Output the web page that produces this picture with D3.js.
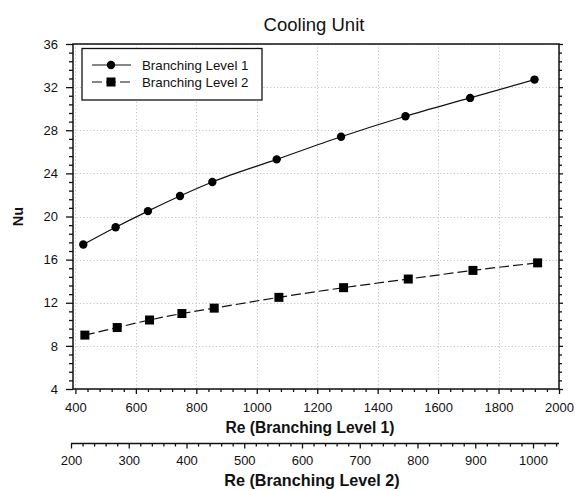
<!DOCTYPE html>
<html>
<head>
<meta charset="utf-8">
<script src="https://cdn.jsdelivr.net/npm/d3@7"></script>
<style>
  html, body { margin: 0; padding: 0; background: #fff; }
  svg { display: block; font-family: "Liberation Sans", Arial, sans-serif; }
</style>
</head>
<body>
<svg id="chart" width="576" height="490"></svg>
<script>
// Reynolds number and Nusselt number for the two branching levels
const re1 = [426, 533, 640, 746, 853, 1066, 1279, 1492, 1706, 1919];
const nu1 = [17.4, 19.0, 20.5, 21.9, 23.2, 25.3, 27.4, 29.3, 31.0, 32.7];
const re2 = [224, 280, 336, 392, 448, 560, 672, 784, 896, 1008];
const nu2 = [9.0, 9.7, 10.4, 11.0, 11.5, 12.5, 13.4, 14.2, 15.0, 15.7];

const seriesNames = ["Branching Level 1", "Branching Level 2"];
const yTicks = [4, 8, 12, 16, 20, 24, 28, 32, 36];
const x1Ticks = [400, 600, 800, 1000, 1200, 1400, 1600, 1800, 2000];
const x2Ticks = [200, 300, 400, 500, 600, 700, 800, 900, 1000];

const svg = d3.select("#chart");
const L = 73, R = 559, T = 44, B = 389;
const ink = "#111";
const fmt = d3.format("d");

const x1 = d3.scaleLinear().domain([392, 2000]).range([L, R]);
const x2 = d3.scaleLinear().domain([200, 1045]).range([71, R]);
const y = d3.scaleLinear().domain([4, 36]).range([B, T]);

// minor tick positions
const yMinor = d3.range(4, 36.001, 0.8).filter(v => Math.abs(v % 4) > 1e-6 && Math.abs(v % 4 - 4) > 1e-6);
const x1Minor = d3.range(400, 2000.001, 40).filter(v => v % 200 !== 0);
const x2Minor = d3.range(200, 1045, 20).filter(v => v % 100 !== 0);

// dotted grid
const grid = svg.append("g").attr("stroke", "#c4c4c4").attr("stroke-width", 1)
  .attr("stroke-dasharray", "1.2,2.2");
grid.selectAll("line.v").data(x1Ticks).join("line")
  .attr("x1", d => Math.round(x1(d)) + 0.5).attr("x2", d => Math.round(x1(d)) + 0.5)
  .attr("y1", T).attr("y2", B);
grid.selectAll("line.h").data(yTicks).join("line")
  .attr("x1", L).attr("x2", R)
  .attr("y1", d => Math.round(y(d)) + 0.5).attr("y2", d => Math.round(y(d)) + 0.5);

// axes
function styleAxis(g) {
  g.select(".domain").remove();
  g.selectAll("line").attr("stroke", ink).attr("stroke-width", 1.3);
  g.selectAll("text").attr("fill", ink).attr("font-size", 13)
    .attr("font-family", "'Liberation Sans', Arial, sans-serif");
}

svg.append("g").attr("transform", `translate(${L},0)`)
  .call(d3.axisLeft(y).tickValues(yTicks).tickFormat(fmt).tickSize(7).tickPadding(8))
  .call(styleAxis);
svg.append("g").attr("transform", `translate(${L},0)`)
  .call(d3.axisLeft(y).tickValues(yMinor).tickSize(4).tickFormat(""))
  .call(styleAxis);
svg.append("g").attr("transform", `translate(${R},0)`)
  .call(d3.axisRight(y).tickValues(yTicks).tickSize(4).tickFormat(""))
  .call(styleAxis);
svg.append("g").attr("transform", `translate(${R},0)`)
  .call(d3.axisRight(y).tickValues(yMinor).tickSize(3).tickFormat(""))
  .call(styleAxis);

const xa1 = svg.append("g").attr("transform", `translate(0,${B})`)
  .call(d3.axisBottom(x1).tickValues(x1Ticks).tickFormat(fmt).tickSize(5))
  .call(styleAxis);
xa1.selectAll("text").attr("y", 23).attr("dy", 0);
svg.append("g").attr("transform", `translate(0,${B})`)
  .call(d3.axisBottom(x1).tickValues(x1Minor).tickSize(3).tickFormat(""))
  .call(styleAxis);

// frame
svg.append("rect").attr("x", L).attr("y", T).attr("width", R - L).attr("height", B - T)
  .attr("fill", "none").attr("stroke", ink).attr("stroke-width", 1.5);

// secondary Re axis for level 2
const ya2 = 443.5;
const xa2 = svg.append("g").attr("transform", `translate(0,${ya2})`)
  .call(d3.axisBottom(x2).tickValues(x2Ticks).tickFormat(fmt).tickSize(5))
  .call(styleAxis);
xa2.selectAll("text").attr("y", 21.5).attr("dy", 0);
svg.append("g").attr("transform", `translate(0,${ya2})`)
  .call(d3.axisBottom(x2).tickValues(x2Minor).tickSize(3).tickFormat(""))
  .call(styleAxis);
svg.append("line").attr("x1", x2.range()[0]).attr("x2", x2.range()[1])
  .attr("y1", ya2).attr("y2", ya2).attr("stroke", ink).attr("stroke-width", 1.5);

// titles
svg.append("text").attr("x", 314).attr("y", 31).attr("text-anchor", "middle")
  .attr("font-size", 18.5).attr("fill", ink).text("Cooling Unit");
svg.append("text").attr("x", 310).attr("y", 433).attr("text-anchor", "middle")
  .attr("font-size", 15.6).attr("font-weight", "bold").attr("fill", ink)
  .text("Re (Branching Level 1)");
svg.append("text").attr("x", 312).attr("y", 486).attr("text-anchor", "middle")
  .attr("font-size", 16.2).attr("font-weight", "bold").attr("fill", ink)
  .text("Re (Branching Level 2)");
svg.append("text").attr("transform", `translate(23,${(T + B) / 2}) rotate(-90)`)
  .attr("text-anchor", "middle").attr("font-size", 14.5).attr("font-weight", "bold")
  .attr("fill", ink).text("Nu");

// series
const curve = d3.curveMonotoneX;
const pts1 = re1.map((r, i) => [x1(r), y(nu1[i])]);
const pts2 = re2.map((r, i) => [x2(r), y(nu2[i])]);
const line = d3.line().curve(curve);

svg.append("path").attr("d", line(pts1)).attr("fill", "none")
  .attr("stroke", ink).attr("stroke-width", 1.2);
svg.append("path").attr("d", line(pts2)).attr("fill", "none")
  .attr("stroke", ink).attr("stroke-width", 1.2).attr("stroke-dasharray", "10,4");

svg.append("g").selectAll("circle").data(pts1).join("circle")
  .attr("cx", d => d[0]).attr("cy", d => d[1]).attr("r", 4.2).attr("fill", "#000");
const sq = 9;
svg.append("g").selectAll("rect").data(pts2).join("rect")
  .attr("x", d => d[0] - sq / 2).attr("y", d => d[1] - sq / 2)
  .attr("width", sq).attr("height", sq).attr("fill", "#000");

// legend
const lg = svg.append("g");
lg.append("rect").attr("x", 82).attr("y", 48.5).attr("width", 180).attr("height", 51.5)
  .attr("fill", "#fff").attr("stroke", ink).attr("stroke-width", 1.3);
const legendRows = [
  { name: seriesNames[0], y: 65, dash: null, marker: "circle" },
  { name: seriesNames[1], y: 82, dash: "10,4", marker: "square" }
];
legendRows.forEach(row => {
  lg.append("line").attr("x1", 92).attr("x2", 131).attr("y1", row.y).attr("y2", row.y)
    .attr("stroke", ink).attr("stroke-width", 1.2)
    .attr("stroke-dasharray", row.dash);
  if (row.marker === "circle") {
    lg.append("circle").attr("cx", 111).attr("cy", row.y).attr("r", 4.2).attr("fill", "#000");
  } else {
    lg.append("rect").attr("x", 111 - sq / 2).attr("y", row.y - sq / 2)
      .attr("width", sq).attr("height", sq).attr("fill", "#000");
  }
  lg.append("text").attr("x", 142).attr("y", row.y + 4.5).attr("font-size", 13.3)
    .attr("fill", ink).text(row.name);
});
</script>
</body>
</html>
